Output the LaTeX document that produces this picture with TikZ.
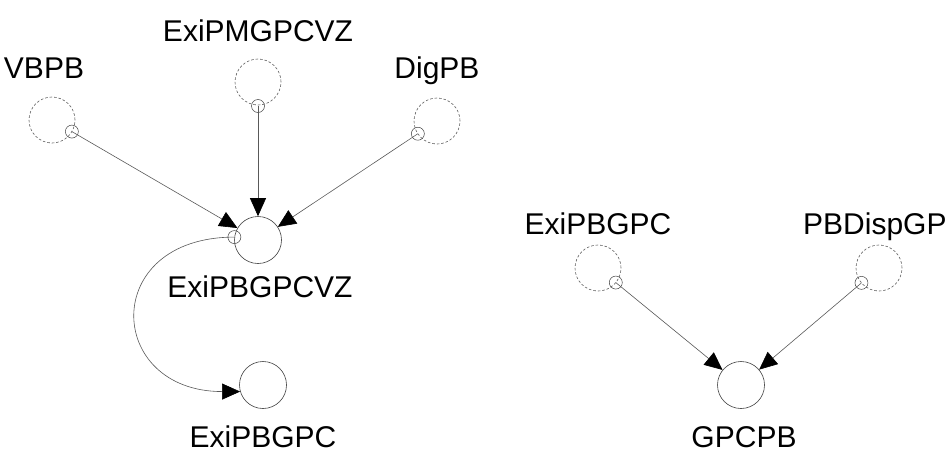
\documentclass[tikz,border=0pt]{standalone}
\usepackage{fontspec}
\setmainfont{Liberation Sans}
\usetikzlibrary{arrows.meta,calc}
\begin{document}
\begin{tikzpicture}[x=1pt,y=-1pt,
  lbl/.style={anchor=base,inner sep=0pt,font=\fontsize{30}{34}\selectfont},
  dashcircle/.style={circle,draw=black!65,dash pattern=on 2.5pt off 2pt,line width=0.6pt,minimum size=46pt,inner sep=0pt},
  solidcircle/.style={circle,draw=black!75,line width=0.6pt,minimum size=47pt,inner sep=0pt},
  port/.style={circle,draw=black!75,line width=0.5pt,minimum size=13pt,inner sep=0pt},
  link/.style={draw=black!65,line width=0.6pt,-{Triangle[length=18pt,width=16pt,color=black]}}]
\useasboundingbox (0,0) rectangle (950,453);
% Kreise
\node[solidcircle] (exipbgpcvz) at (258,240) {};
\node[solidcircle] (exipbgpc) at (263,385) {};
\node[solidcircle] (gpcpb) at (741,385) {};
\node[dashcircle] (vbpb) at (52,120) {};
\node[dashcircle] (exipmgpcvz) at (258,82) {};
\node[dashcircle] (digpb) at (437,121) {};
\node[dashcircle] (exipbgpcin) at (598,268) {};
\node[dashcircle] (pbdispgp) at (879,268) {};

% Ports
\node[port] (vbpbport) at ($(vbpb)!23pt!(exipbgpcvz)$) {};
\node[port] (exipmgpcvzport) at ($(exipmgpcvz)!24pt!(exipbgpcvz)$) {};
\node[port] (digpbport) at ($(digpb)!23pt!(exipbgpcvz)$) {};
\node[port] (exipbgpcinport) at ($(exipbgpcin)!23pt!(gpcpb)$) {};
\node[port] (pbdispgpport) at ($(pbdispgp)!23pt!(gpcpb)$) {};
\node[port] (exipbgpcvzport) at (exipbgpcvz.173) {};

% Beschriftungen
\node[lbl] (vbpblabel) at (44,78) {VBPB};
\node[lbl] (exipmgpcvzlabel) at (258,41) {ExiPMGPCVZ};
\node[lbl] (digpblabel) at (437,78) {DigPB};
\node[lbl] (exipbgpcvzlabel) at (260,297) {ExiPBGPCVZ};
\node[lbl] (exipbgpclabel) at (263,447) {ExiPBGPC};
\node[lbl] (exipbgpcinlabel) at (598,234) {ExiPBGPC};
\node[lbl,anchor=base west] (pbdispgplabel) at (803,234) {PBDispGP};
\node[lbl] (gpcpblabel) at (744,447) {GPCPB};

% Verbindungen
\draw[link] (vbpbport.center) -- (exipbgpcvz);
\draw[link] (exipmgpcvzport.center) -- (exipbgpcvz);
\draw[link] (digpbport.center) -- (exipbgpcvz);
\draw[link] (exipbgpcinport.center) -- (gpcpb);
\draw[link] (pbdispgpport.center) -- (gpcpb);
\draw[link] (exipbgpcvzport.center) .. controls +(-135,0) and +(-135,0) .. (exipbgpc.196);
\end{tikzpicture}
\end{document}
